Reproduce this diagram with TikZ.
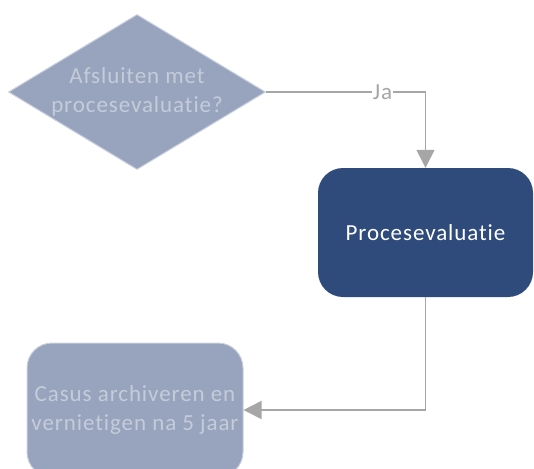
\documentclass[tikz,border=0pt]{standalone}
\usepackage{fontspec}
\setmainfont{Carlito}[Ligatures={NoCommon}, LetterSpace=4]
\usetikzlibrary{shapes.geometric,arrows.meta}
\definecolor{navy}{HTML}{2F4B7C}
\definecolor{pale}{HTML}{98A4BD}
\definecolor{paletext}{HTML}{C4CCDA}
\definecolor{paleedge}{HTML}{C8D0DD}
\definecolor{linegray}{HTML}{A6A6A6}
\tikzset{
  txt/.style={font=\fontsize{23}{29}\selectfont, align=center},
  decision/.style={shape=diamond, fill=pale, draw=paleedge, line width=1pt, inner sep=0pt,
    minimum width=257pt, minimum height=155pt, shape aspect=1.66, txt, text=paletext},
  darkbox/.style={rectangle, rounded corners=25pt, fill=navy, minimum width=215pt, minimum height=129pt, txt, text=white},
  palebox/.style={rectangle, rounded corners=25pt, fill=pale, draw=paleedge, line width=1pt, minimum width=216pt, minimum height=134pt, txt, text=paletext},
  conn/.style={draw=linegray, line width=1.5pt, -{Triangle[length=18pt,width=18pt]}},
  lbl/.style={fill=white, inner sep=1pt, text=linegray, font=\fontsize{23}{26}\selectfont}
}
\begin{document}
\begin{tikzpicture}[x=1pt,y=-1pt]
\useasboundingbox (0,0) rectangle (534,468);
\clip (0,0) rectangle (534,468);
\node[decision] (dec) at (137,92) {Afsluiten met\\procesevaluatie?};
\node[darkbox] (proc) at (425.5,232.5) {Procesevaluatie};
\node[palebox] (cas) at (135,410) {Casus archiveren en\\vernietigen na 5 jaar};
\coordinate (bend) at (dec.east -| proc.north);
\draw[conn] (dec.east) -- node[pos=0.73,lbl]{Ja} (bend) -- (proc.north);
\draw[conn] (proc.south) |- (cas.east);
\end{tikzpicture}
\end{document}
